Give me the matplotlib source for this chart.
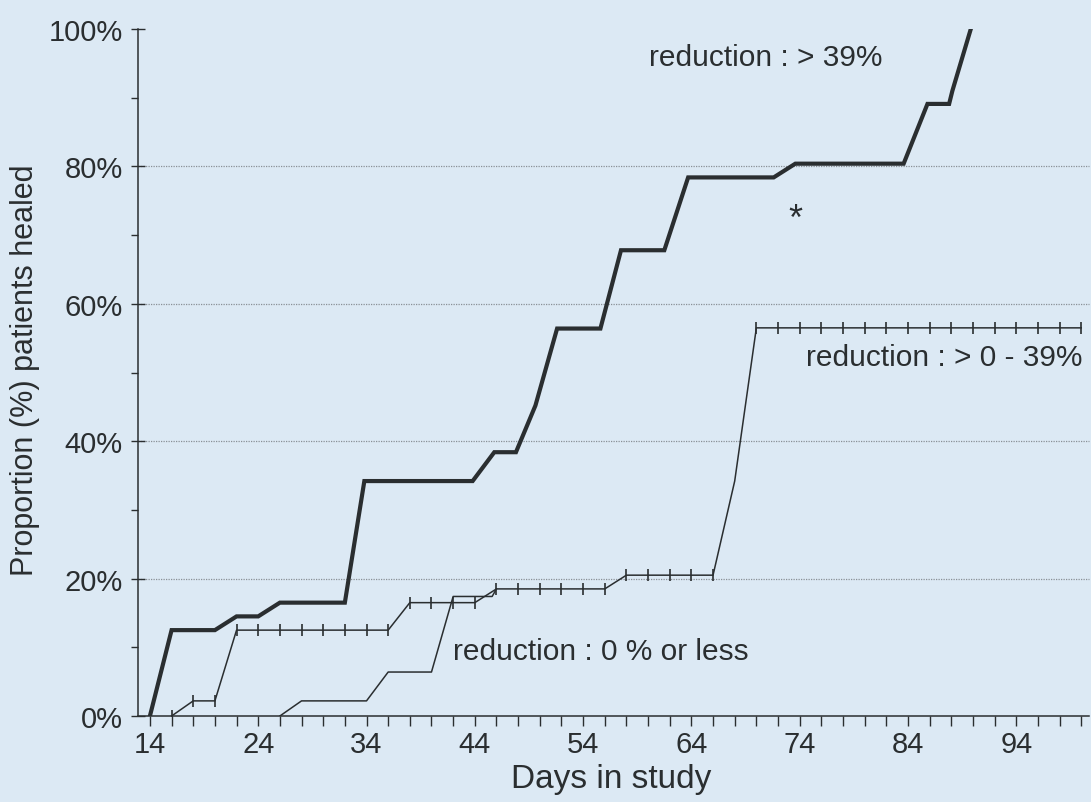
import matplotlib.pyplot as plt
import numpy as np

# reduction > 39% (thick line)
days_high = [14, 16, 20, 22, 24, 26, 32, 33.8, 43.8, 45.8, 47.8, 49.6, 51.6, 55.6,
             57.5, 61.5, 63.7, 71.6, 73.6, 83.6, 85.8, 87.8, 88.1, 89.8]
pct_high = [0, 12.5, 12.5, 14.5, 14.5, 16.5, 16.5, 34.2, 34.2, 38.4, 38.4, 45.2, 56.4, 56.4,
            67.8, 67.8, 78.4, 78.4, 80.4, 80.4, 89.1, 89.1, 91.0, 100]

# reduction > 0 - 39% (thin line with censor ticks)
days_mid = [16, 18, 20, 22, 24, 26, 28, 30, 32, 34, 36, 38, 40, 42, 44,
            46, 48, 50, 52, 54, 56, 58, 60, 62, 64, 66, 68,
            70, 72, 74, 76, 78, 80, 82, 84, 86, 88, 90, 92, 94, 96, 98, 100]
pct_mid = [0, 2.2, 2.2, 12.5, 12.5, 12.5, 12.5, 12.5, 12.5, 12.5, 12.5, 16.5, 16.5, 16.5, 16.5,
           18.5, 18.5, 18.5, 18.5, 18.5, 18.5, 20.5, 20.5, 20.5, 20.5, 20.5, 34.2,
           56.5, 56.5, 56.5, 56.5, 56.5, 56.5, 56.5, 56.5, 56.5, 56.5, 56.5, 56.5, 56.5, 56.5, 56.5, 56.5]
uncensored_mid = [68]

# reduction 0 % or less (thin line)
days_low = [26, 28, 34, 36, 40, 42, 45.6, 46]
pct_low = [0, 2.2, 2.2, 6.4, 6.4, 17.4, 17.4, 18.5]

y_major = [0, 20, 40, 60, 80, 100]
y_minor = [10, 30, 50, 70, 90]
x_labels = [14, 24, 34, 44, 54, 64, 74, 84, 94]

plt.rcParams['font.family'] = ['Liberation Sans', 'DejaVu Sans']

bg = '#dce9f4'
ink = '#2a2e30'

fig = plt.figure(figsize=(10.91, 8.03), dpi=100, facecolor=bg)
ax = fig.add_axes([0.1265, 0.1071, 0.8715, 0.8555])
ax.set_facecolor(bg)

for y in [20, 40, 60, 80]:
    ax.axhline(y, color='#8a9096', lw=0.9, ls=(0, (1, 1)), zorder=1, clip_on=False)

ax.plot(days_high, pct_high, color=ink, lw=3.0, solid_joinstyle='miter', zorder=4)

ax.plot(days_low, pct_low, color=ink, lw=1.1, zorder=3)

ax.plot(days_mid, pct_mid, color=ink, lw=1.1, zorder=3)
mask = np.array([d not in uncensored_mid for d in days_mid])
ax.plot(np.array(days_mid)[mask], np.array(pct_mid)[mask], ls='none', marker='|',
        ms=8.5, mew=1.2, color=ink, zorder=3)

ax.text(60.1, 96, 'reduction : > 39%', fontsize=21.5, color=ink, va='center', ha='left')
ax.text(74.6, 52.3, 'reduction : > 0 - 39%', fontsize=21.5, color=ink, va='center', ha='left',
        clip_on=False)
ax.text(42.0, 9.5, 'reduction : 0 % or less', fontsize=21.5, color=ink, va='center', ha='left')
ax.text(73.6, 72.3, '*', fontsize=26, color=ink, ha='center', va='center')

ax.set_xlim(12.9, 100.7)
ax.set_ylim(0, 100)

ax.set_xticks(np.arange(14, 101, 2))
ax.set_xticklabels([str(d) if d in x_labels else '' for d in range(14, 101, 2)])
ax.set_yticks(y_major)
ax.set_yticklabels([f'{v}%' for v in y_major])
ax.set_yticks(y_minor, minor=True)

ax.tick_params(axis='x', direction='out', length=7, width=1.0, color=ink,
               labelsize=21, labelcolor=ink, pad=3)
ax.tick_params(axis='y', which='major', direction='inout', length=10, width=1.0, color=ink,
               labelsize=21, labelcolor=ink, pad=6)
ax.tick_params(axis='y', which='minor', direction='out', length=5, width=1.0, color=ink)

for side in ['top', 'right']:
    ax.spines[side].set_visible(False)
for side in ['left', 'bottom']:
    ax.spines[side].set_color(ink)
    ax.spines[side].set_linewidth(1.1)

ax.set_xlabel('Days in study', fontsize=24, color=ink)
ax.set_ylabel('Proportion (%) patients healed', fontsize=22, color=ink)
ax.xaxis.set_label_coords(0.498, -0.068)
ax.yaxis.set_label_coords(-0.103, 0.505)

fig.savefig('out.png', dpi=100, facecolor=bg)
